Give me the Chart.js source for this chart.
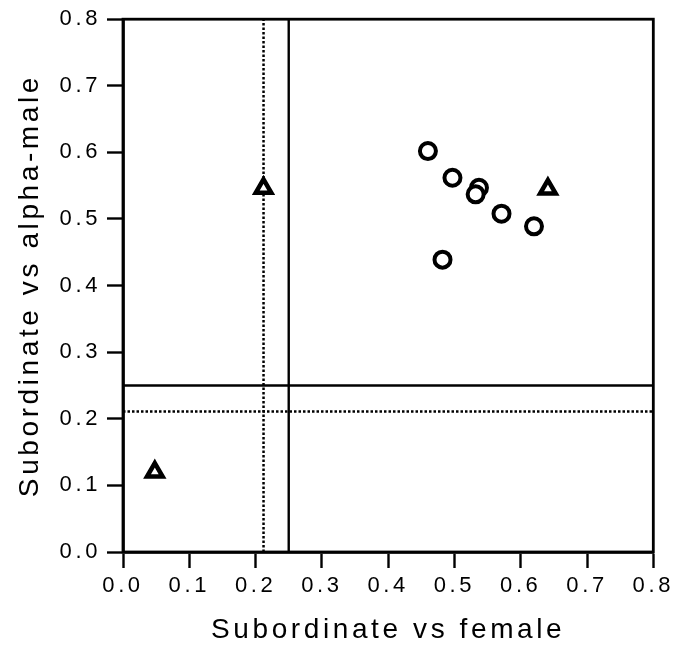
<!DOCTYPE html>
<html><head><meta charset="utf-8">
<script src="https://cdn.jsdelivr.net/npm/chart.js@4/dist/chart.umd.min.js"></script>
<style>html,body{margin:0;padding:0;background:#fff}#wrap{width:679px;height:659px}</style>
</head><body><div id="wrap"><canvas id="c" width="679" height="659"></canvas></div>
<script>
const xTitle = "Subordinate vs female";
const yTitle = "Subordinate vs alpha-male";
const tickValues = [0, 0.1, 0.2, 0.3, 0.4, 0.5, 0.6, 0.7, 0.8];
const circleX = [0.46, 0.497, 0.537, 0.532, 0.571, 0.62, 0.482];
const circleY = [0.602, 0.562, 0.547, 0.537, 0.508, 0.489, 0.439];
const triangleX = [0.048, 0.212, 0.641];
const triangleY = [0.12, 0.546, 0.545];
const solidThreshold = 0.25;
const dottedThresholdX = 0.212;
const dottedThresholdY = 0.211;
const axisMin = 0, axisMax = 0.8;

Chart.defaults.font.family = "'Liberation Sans', Arial, sans-serif";
Chart.defaults.font.size = 22;
Chart.defaults.color = '#000';

const pts = (xs, ys) => xs.map((x, i) => ({x, y: ys[i]}));
const LS = '3.6px';
const spacingPlugin = {
  id: 'spacing',
  beforeUpdate(chart){ chart.ctx.letterSpacing = LS; },
  beforeLayout(chart){ chart.ctx.letterSpacing = LS; },
  beforeDraw(chart){ chart.ctx.letterSpacing = LS; }
};
const framePlugin = {
  id: 'frame',
  afterDatasetsDraw(chart){
    const a = chart.chartArea, ctx = chart.ctx;
    ctx.save(); ctx.strokeStyle = '#000'; ctx.lineWidth = 2.8;
    ctx.strokeRect(a.left, a.top, a.right - a.left, a.bottom - a.top);
    ctx.restore();
  }
};
const lineDs = (data, dash, w) => ({type:'line', data, borderColor:'#000', borderWidth:w, borderDash:dash, pointRadius:0, showLine:true, fill:false, order:2});
const tickFont = {family:"'Liberation Sans', Arial, sans-serif", size:22};

new Chart(document.getElementById('c'), {
  type: 'scatter',
  data: { datasets: [
    lineDs([{x:solidThreshold,y:axisMin},{x:solidThreshold,y:axisMax}], [], 2.4),
    lineDs([{x:axisMin,y:solidThreshold},{x:axisMax,y:solidThreshold}], [], 2.4),
    lineDs([{x:dottedThresholdX,y:axisMin},{x:dottedThresholdX,y:axisMax}], [2.5,2], 2.5),
    lineDs([{x:axisMin,y:dottedThresholdY},{x:axisMax,y:dottedThresholdY}], [2.5,2], 2.5),
    {label:'circles', data: pts(circleX, circleY), pointStyle:'circle', pointRadius:8, pointBorderWidth:4, borderColor:'#000', backgroundColor:'#fff', order:1},
    {label:'triangles', data: pts(triangleX, triangleY), pointStyle:'triangle', pointRadius:9, pointBorderWidth:4.5, borderColor:'#000', backgroundColor:'#fff', order:1}
  ]},
  options: {
    responsive:false, animation:false, devicePixelRatio:1,
    layout:{padding:{top:17, right:25, left:0, bottom:0}},
    plugins:{legend:{display:false}, tooltip:{enabled:false}},
    scales:{
      x:{type:'linear', min:axisMin, max:axisMax,
        afterBuildTicks(s){ s.ticks = tickValues.map(v=>({value:v})); },
        afterFit(s){ s.height = 107; },
        ticks:{color:'#000', font:()=>tickFont, padding:5, maxRotation:0, autoSkip:false, callback:v=>Number(v).toFixed(1)},
        grid:{drawOnChartArea:false, tickLength:16, tickWidth:2.4, tickColor:'#000'},
        border:{color:'#000', width:2.8},
        title:{display:true, text:xTitle, color:'#000', font:{size:28}, padding:{top:0,bottom:12}}
      },
      y:{type:'linear', min:axisMin, max:axisMax,
        afterBuildTicks(s){ s.ticks = tickValues.map(v=>({value:v})); },
        afterFit(s){ s.width = 123; },
        ticks:{color:'#000', font:()=>tickFont, padding:6, autoSkip:false, callback:v=>Number(v).toFixed(1)},
        grid:{drawOnChartArea:false, tickLength:16, tickWidth:2.4, tickColor:'#000'},
        border:{color:'#000', width:2.8},
        title:{display:true, text:yTitle, color:'#000', font:{size:28}, padding:{top:13,bottom:0}}
      }
    }
  },
  plugins:[spacingPlugin, framePlugin]
});
</script></body></html>
